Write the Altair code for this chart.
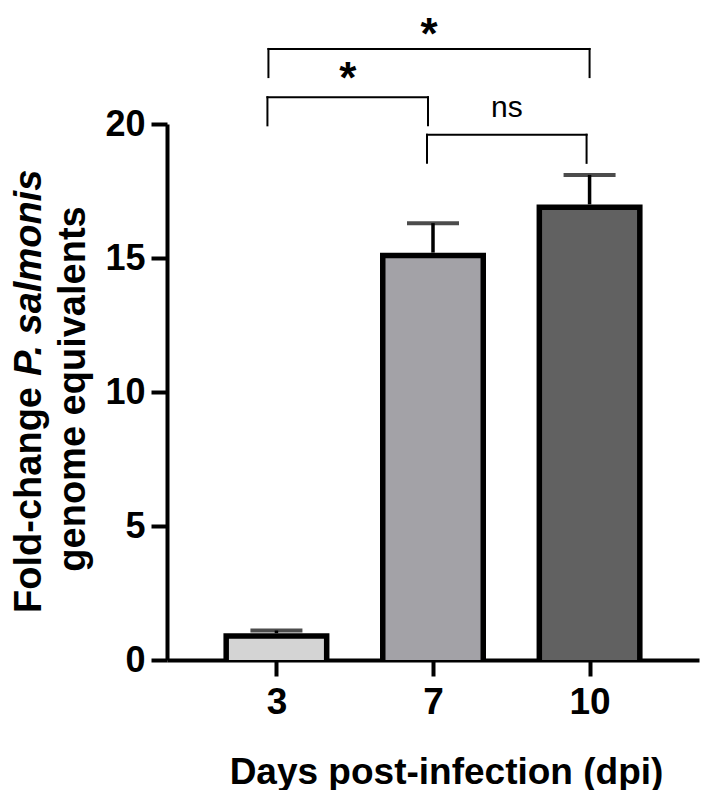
import altair as alt
import pandas as pd

# ---- data ----
days = ["3", "7", "10"]
means = [1.0, 15.2, 17.0]
sems = [0.1, 1.1, 1.1]

br_start = [0, 0, 1]
br_end = [2, 1, 2]
br_level = [22.8, 21.0, 19.6]
br_tip = [21.75, 19.95, 18.55]
br_label = ["*", "*", "ns"]

y_ticks = [0, 5, 10, 15, 20]

# ---- styles ----
FILLS = ["#d4d4d4", "#a3a2a7", "#616161"]
BR_START_OFF = [-8, -9, -6]
BR_END_OFF = [0, -5, -3]
BR_TEXT_DY = [0, -4, -18]
FONT = "Liberation Sans"
W, H = 532, 536

bars = pd.DataFrame({"day": days, "pos": list(range(len(days))),
                     "mean": means, "sem": sems})
bars["upper"] = bars["mean"] + bars["sem"]

xs = alt.Scale(domain=[-0.667, 2.667], nice=False, zero=False)
ys = alt.Scale(domain=[0, 20], nice=False, zero=True)

label_expr = "[" + ",".join(f"'{d}'" for d in days) + "][datum.value]"

x_axis = alt.Axis(values=list(range(len(days))), labelExpr=label_expr,
                  title="Days post-infection (dpi)", titleFontSize=37,
                  titleFontWeight="bold", titleX=279, titleY=123,
                  titleAlign="center", titleBaseline="alphabetic",
                  labelFontSize=37, labelFontWeight="bold", labelPadding=8,
                  tickSize=16)
y_axis = alt.Axis(values=y_ticks, title=None, labelFontSize=36,
                  labelFontWeight="bold", labelPadding=6, tickSize=16)

base = alt.Chart(bars)
err = base.mark_rule(color="black", strokeWidth=3.5).encode(
    x=alt.X("pos:Q", scale=xs, axis=x_axis),
    y=alt.Y("mean:Q", scale=ys, axis=y_axis),
    y2="upper:Q")
cap = base.mark_tick(orient="horizontal", size=52, thickness=4, color="black").encode(
    x="pos:Q", y="upper:Q")
outer = base.mark_bar(width=106, color="black").encode(
    x="pos:Q", y="mean:Q", y2=alt.datum(0))
inner = base.mark_bar(width=95, yOffset=5.6).encode(
    x="pos:Q", y="mean:Q", y2=alt.datum(0),
    fill=alt.Fill("day:N", scale=alt.Scale(domain=days, range=FILLS), legend=None))

layers = [err, cap, outer, inner]

for i in range(len(br_label)):
    so, eo = BR_START_OFF[i], BR_END_OFF[i]
    df = pd.DataFrame({"a": [br_start[i]], "b": [br_end[i]], "lvl": [br_level[i]],
                       "tip": [br_tip[i]], "lab": [br_label[i]]})
    c = alt.Chart(df)
    rule_kw = dict(color="black", strokeWidth=2, strokeCap="square")
    layers.append(c.mark_rule(xOffset=so, x2Offset=eo, **rule_kw).encode(
        x="a:Q", x2="b:Q", y="lvl:Q"))
    layers.append(c.mark_rule(xOffset=so, **rule_kw).encode(
        x="a:Q", y="tip:Q", y2="lvl:Q"))
    layers.append(c.mark_rule(xOffset=eo, **rule_kw).encode(
        x="b:Q", y="tip:Q", y2="lvl:Q"))
    if br_label[i] == "ns":
        tkw = dict(fontSize=30, fontWeight="normal")
    else:
        tkw = dict(fontSize=44, fontWeight="bold")
    layers.append(c.transform_calculate(mid="(datum.a + datum.b) / 2").mark_text(
        dx=(so + eo) / 2, dy=BR_TEXT_DY[i], font=FONT, color="black", align="center",
        baseline="alphabetic", **tkw).encode(x="mid:Q", y="lvl:Q", text="lab:N"))

# y-axis title (two lines, with italic species name)
tkw = dict(angle=270, baseline="alphabetic", fontSize=38, fontWeight="bold",
           font=FONT, color="black")
layers.append(alt.Chart(pd.DataFrame({"t": ["Fold-change"]})).mark_text(
    align="right", **tkw).encode(x=alt.value(-126), y=alt.value(263), text="t:N"))
layers.append(alt.Chart(pd.DataFrame({"t": ["P. salmonis"]})).mark_text(
    align="left", fontStyle="italic", **tkw).encode(x=alt.value(-126), y=alt.value(252), text="t:N"))
layers.append(alt.Chart(pd.DataFrame({"t": ["genome equivalents"]})).mark_text(
    align="center", **tkw).encode(x=alt.value(-82), y=alt.value(265), text="t:N"))

chart = alt.layer(*layers).properties(
    width=W, height=H,
    padding={"left": 159, "top": 116, "right": 2, "bottom": 130},
    autosize=alt.AutoSizeParams(type="none"),
).configure_view(stroke=None).configure_axis(
    grid=False, domainColor="black", domainWidth=4, tickColor="black",
    tickWidth=4, labelColor="black", titleColor="black",
    labelFont=FONT, titleFont=FONT)

chart.save("out.html", embed_options={"renderer": "svg", "actions": False})
